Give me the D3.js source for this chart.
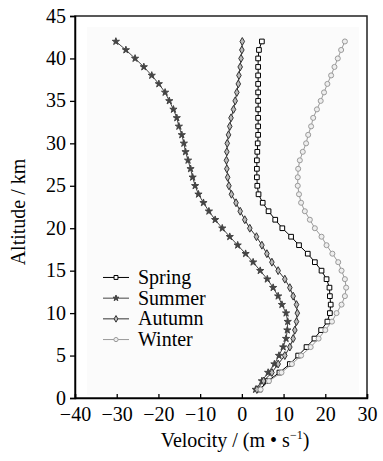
<!DOCTYPE html>
<html>
<head>
<meta charset="utf-8">
<script src="https://cdn.jsdelivr.net/npm/d3@7"></script>
<style>
  body { margin: 0; background: #fff; }
</style>
</head>
<body>
<div id="chart"></div>
<script>
const altitudes = d3.range(1, 43);

const spring = [4.3, 6.2, 9.0, 11.5, 13.5, 15.5, 17.4, 19.0, 20.5, 21.1,
  21.3, 21.1, 21.0, 20.3, 19.1, 17.5, 15.8, 13.7, 11.8, 9.7,
  8.0, 6.4, 5.0, 4.0, 3.7, 3.6, 3.6, 3.6, 3.7, 3.8,
  3.9, 3.9, 3.9, 3.9, 3.9, 3.9, 3.9, 3.9, 3.9, 3.9, 4.1, 4.8];

const summer = [3.3, 4.8, 6.3, 7.8, 8.9, 9.9, 10.6, 10.9, 11.0, 10.6,
  9.6, 8.7, 7.5, 6.1, 4.4, 2.7, 0.9, -1.0, -2.9, -4.7,
  -6.4, -7.9, -9.2, -10.4, -11.2, -11.8, -12.3, -12.9, -13.5, -13.9,
  -14.4, -15.1, -15.6, -16.4, -17.4, -18.4, -19.9, -21.6, -23.5, -25.6, -27.8, -30.2];

const autumn = [3.6, 5.2, 7.2, 8.7, 10.3, 11.5, 12.3, 12.7, 13.1, 13.3,
  13.1, 12.3, 11.5, 10.3, 8.7, 7.2, 6.0, 4.8, 3.5, 1.9,
  0.7, -0.4, -1.4, -2.5, -3.1, -3.4, -3.6, -3.7, -3.6, -3.5,
  -3.2, -2.9, -2.6, -2.0, -1.6, -1.2, -0.85, -0.7, -0.4, -0.2, 0.0, 0.1];

const winter = [4.5, 6.5, 9.5, 12.0, 14.2, 16.5, 18.4, 20.0, 21.6, 22.7,
  23.9, 24.7, 25.0, 24.7, 23.9, 23.1, 21.7, 20.3, 19.1, 17.5,
  16.3, 15.1, 14.2, 13.7, 13.4, 13.4, 13.5, 13.9, 14.6, 15.4,
  15.9, 16.6, 17.1, 18.0, 18.9, 19.7, 20.5, 21.4, 22.2, 23.0, 23.8, 24.7];

const seriesNames = ["Spring", "Summer", "Autumn", "Winter"];
const xTicks = [-40, -30, -20, -10, 0, 10, 20, 30];
const yTicks = [0, 5, 10, 15, 20, 25, 30, 35, 40, 45];

const series = [
  { name: seriesNames[0], values: spring, color: "#000", symbol: d3.symbolSquare, size: 22, fill: "#fff" },
  { name: seriesNames[1], values: summer, color: "#444", symbol: d3.symbolStar, size: 16, fill: "#444" },
  { name: seriesNames[2], values: autumn, color: "#333", symbol: d3.symbolDiamond, size: 18, fill: "#bbb" },
  { name: seriesNames[3], values: winter, color: "#9a9a9a", symbol: d3.symbolCircle, size: 20, fill: "#eee" }
];

const FONT = "'Liberation Serif', 'Times New Roman', serif";

const width = 383, height = 461;
const margin = { left: 75, right: 16, top: 16, bottom: 63 };
const innerW = width - margin.left - margin.right;
const innerH = height - margin.top - margin.bottom;

const svg = d3.select("#chart").append("svg")
  .attr("width", width)
  .attr("height", height)
  .attr("font-family", FONT);

const chart = svg.append("g")
  .attr("transform", `translate(${margin.left},${margin.top})`);

const x = d3.scaleLinear().domain([-40, 30]).range([0, innerW]);
const y = d3.scaleLinear().domain([0, 45]).range([innerH, 0]);

// faint plot background
chart.append("rect")
  .attr("x", 12).attr("y", 11)
  .attr("width", innerW - 20).attr("height", innerH - 14)
  .attr("fill", "#fbfbfb");

// frame
chart.append("rect")
  .attr("width", innerW).attr("height", innerH)
  .attr("fill", "none")
  .attr("stroke", "#222")
  .attr("stroke-width", 1.5);

const xAxis = chart.append("g")
  .attr("transform", `translate(0,${innerH})`)
  .call(d3.axisBottom(x).tickValues(xTicks).tickSize(-4).tickPadding(11)
    .tickFormat(d => d < 0 ? "\u2212" + Math.abs(d) : d));
xAxis.select(".domain").attr("stroke-width", 1.5);
xAxis.selectAll("text").attr("font-size", 20).attr("dy", "0.62em");

const yAxis = chart.append("g")
  .call(d3.axisLeft(y).tickValues(yTicks).tickSize(5).tickPadding(4));
yAxis.select(".domain").attr("stroke-width", 1.5);
yAxis.selectAll("text").attr("font-size", 20).attr("dy", "0.3em");
chart.selectAll(".tick line").attr("stroke-width", 1.3);
chart.selectAll(".tick text").attr("font-family", FONT).attr("fill", "#000");

const line = d3.line()
  .x(d => x(d[0]))
  .y(d => y(d[1]));

series.forEach(s => {
  const pts = s.values.map((v, i) => [v, altitudes[i]]);
  const g = chart.append("g");
  g.append("path")
    .attr("d", line(pts))
    .attr("fill", "none")
    .attr("stroke", s.color)
    .attr("stroke-width", 1);
  g.selectAll("path.marker")
    .data(pts)
    .join("path")
    .attr("class", "marker")
    .attr("transform", d => `translate(${x(d[0])},${y(d[1])})`)
    .attr("d", d3.symbol().type(s.symbol).size(s.size))
    .attr("fill", s.fill)
    .attr("stroke", s.color)
    .attr("stroke-width", 1);
});

// legend
const legend = chart.append("g")
  .attr("transform", `translate(28,${y(14.2)})`);
series.forEach((s, i) => {
  const row = legend.append("g").attr("transform", `translate(0,${i * 20.7})`);
  row.append("line")
    .attr("x1", 0).attr("x2", 26)
    .attr("stroke", s.color).attr("stroke-width", 1);
  row.append("path")
    .attr("transform", "translate(13,0)")
    .attr("d", d3.symbol().type(s.symbol).size(s.size * 0.7))
    .attr("fill", s.fill)
    .attr("stroke", s.color);
  row.append("text")
    .attr("x", 35).attr("dy", "0.33em")
    .attr("font-size", 20)
    .text(s.name);
});

// axis titles
svg.append("text")
  .attr("x", 235).attr("y", 447)
  .attr("text-anchor", "middle")
  .attr("font-size", 20)
  .html('Velocity / (m \u2022 s<tspan dy="-8" font-size="12">\u22121</tspan><tspan dy="8">)</tspan>');

svg.append("text")
  .attr("transform", `translate(25,212) rotate(-90)`)
  .attr("text-anchor", "middle")
  .attr("font-size", 20)
  .text("Altitude / km");
</script>
</body>
</html>
